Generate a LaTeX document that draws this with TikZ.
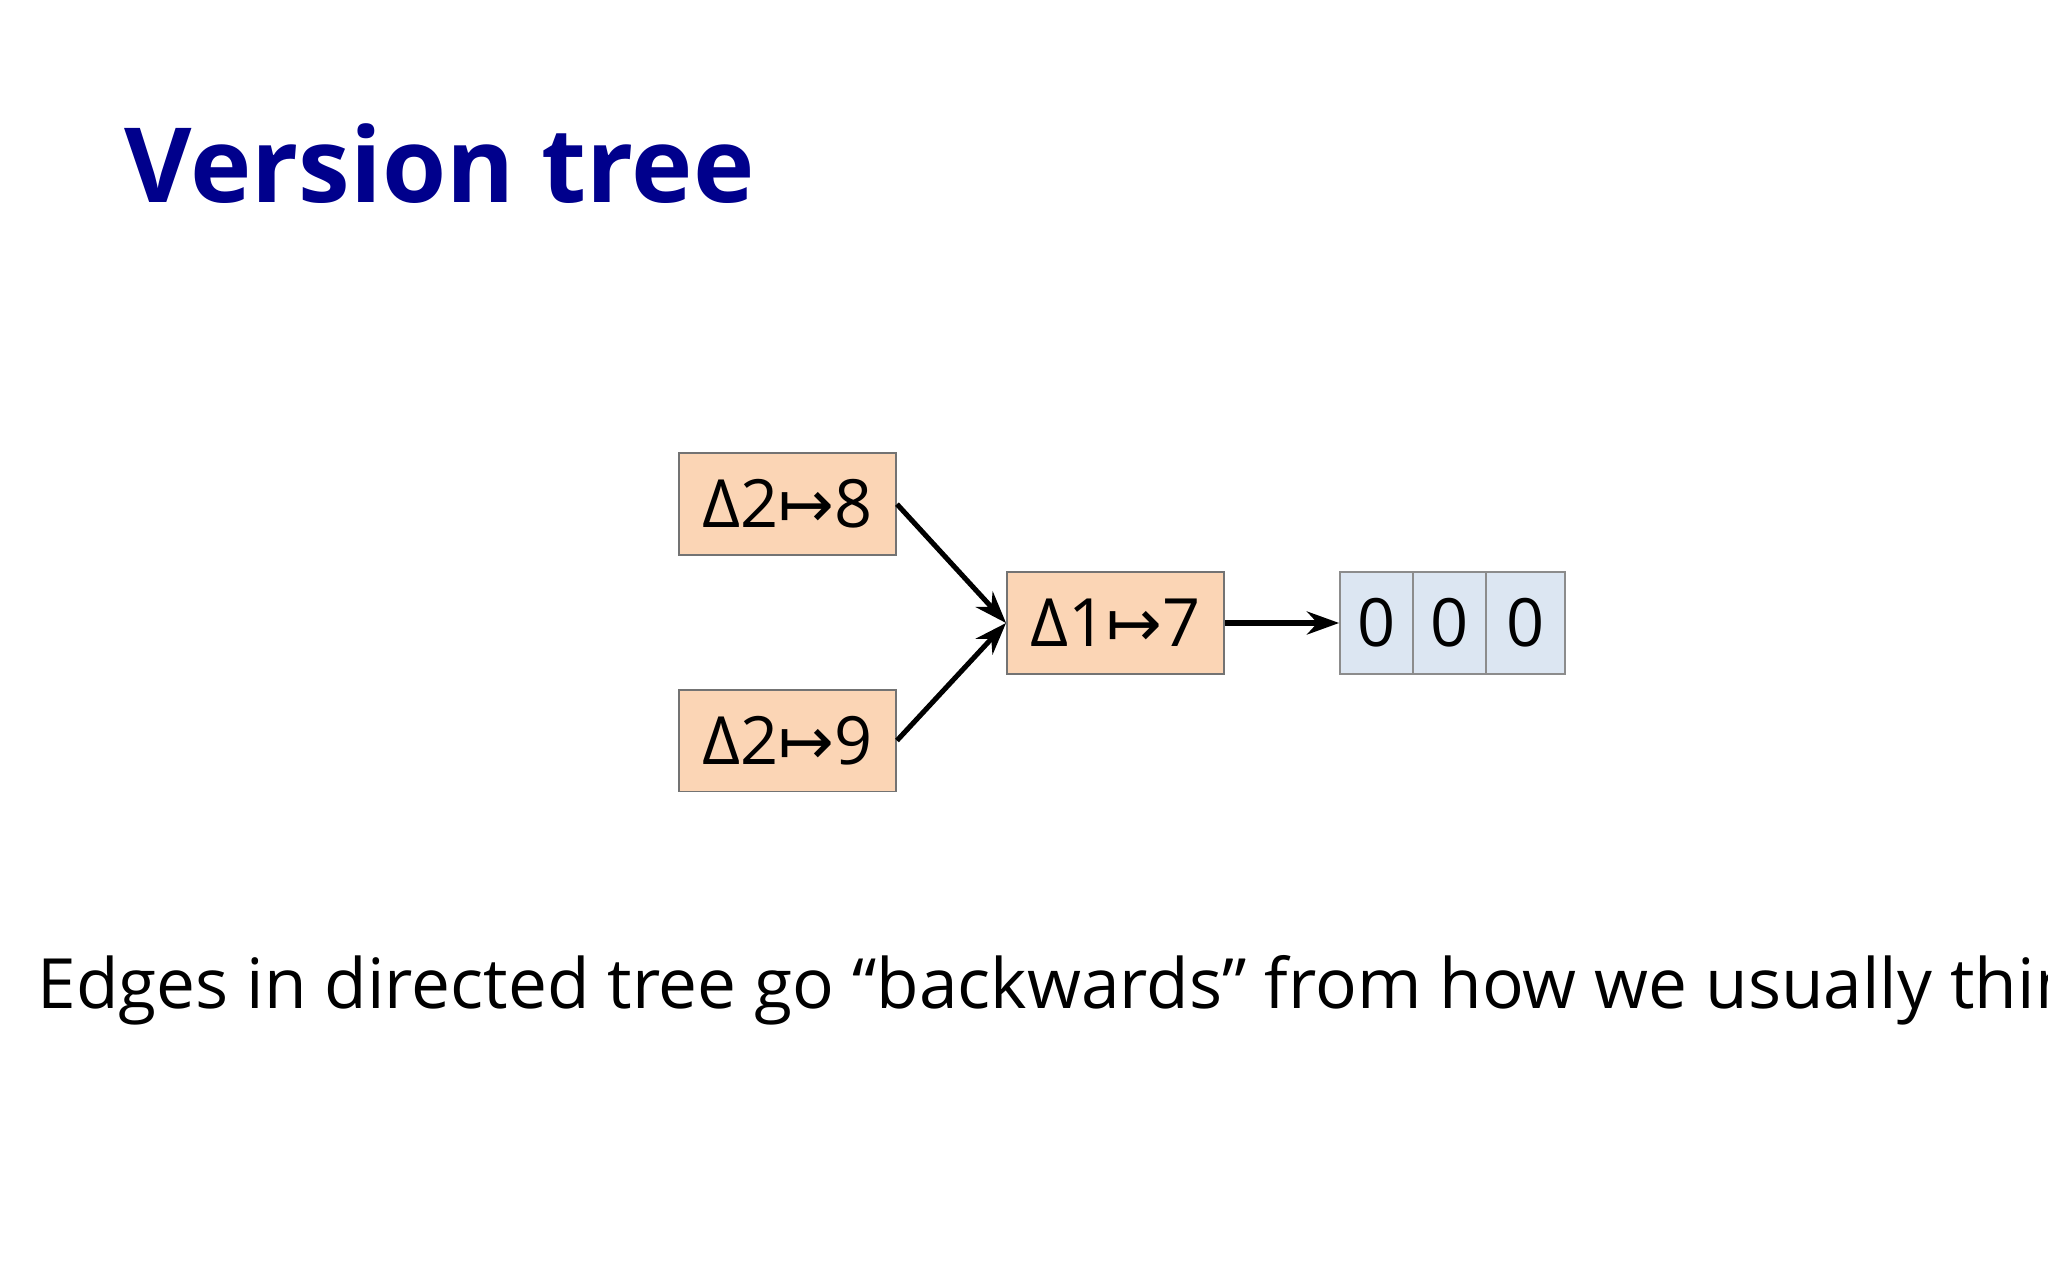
\documentclass[tikz,border=0pt]{standalone}
\usepackage{fontspec}
\setmainfont{Open Sans}
\newfontfamily\sym{DejaVu Sans}
\usetikzlibrary{arrows.meta}
\definecolor{peach}{HTML}{FBD5B5}
\definecolor{pale}{HTML}{DCE6F2}
\begin{document}
\begin{tikzpicture}[x=0.01cm,y=-0.01cm,
  box/.style={draw=black!55,fill=peach,minimum width=1.66cm,minimum height=0.78cm,inner sep=0pt,font=\fontsize{14.5pt}{16pt}\selectfont},
  cell/.style={draw=black!45,fill=pale,minimum height=0.78cm,inner sep=0pt,font=\fontsize{14.5pt}{16pt}\selectfont},
  arr/.style={-{Stealth[length=7pt,width=5pt]},line width=1.1pt}]
\useasboundingbox (0,0) rectangle (1568,980);
\clip (0,0) rectangle (1568,980);
\node[anchor=base west,inner sep=0pt,text=blue!55!black,font=\fontsize{22.6pt}{26pt}\selectfont\bfseries] (title) at (95,155) {Version tree};
\node[box] (b8) at (603,386) {Δ2{\sym\char"21A6}8};
\node[box] (b9) at (603,567) {Δ2{\sym\char"21A6}9};
\node[box] (b7) at (854,477) {Δ1{\sym\char"21A6}7};
\node[cell,minimum width=0.56cm] (c1) at (1054,477) {0};
\node[cell,minimum width=0.56cm] (c2) at (1110,477) {0};
\node[cell,minimum width=0.60cm] (c3) at (1168,477) {0};
\draw[arr] (b8.east) -- (b7.west);
\draw[arr] (b9.east) -- (b7.west);
\draw[arr] (b7.east) -- (c1.west);
\node[anchor=base west,inner sep=0pt,font=\fontsize{15.1pt}{18pt}\selectfont] (txt) at (28,772) {Edges in directed tree go “backwards” from how we usually think};
\end{tikzpicture}
\end{document}
